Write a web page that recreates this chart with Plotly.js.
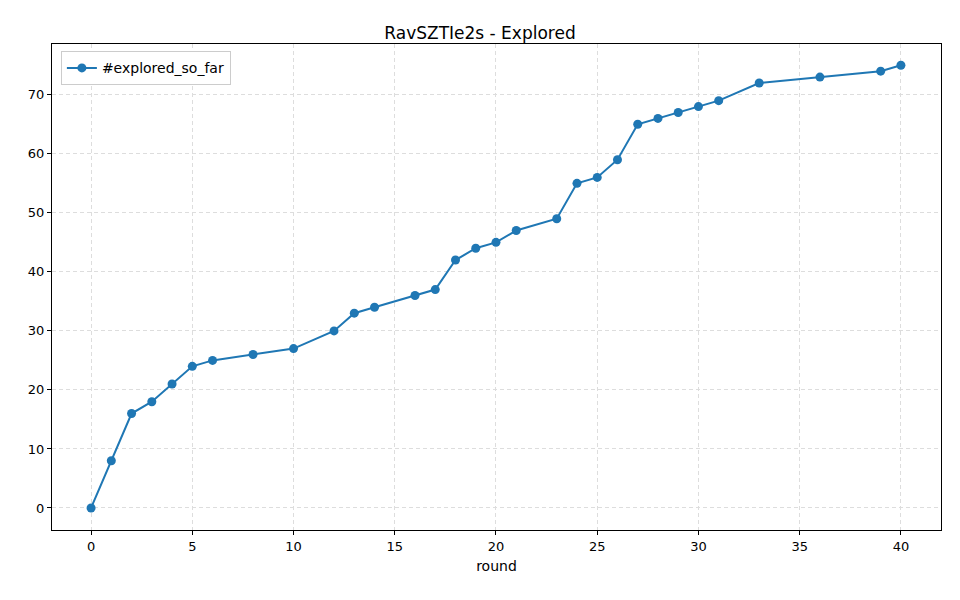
<html><head>
<script src="https://cdn.plot.ly/plotly-3.0.1.min.js"></script>
</head><body style="margin:0">
<div id="plot" style="width:960px;height:600px"></div>
<script>
const rounds = [0,1,2,3,4,5,6,8,10,12,13,14,16,17,18,19,20,21,23,24,25,26,27,28,29,30,31,33,36,39,40];
const explored = [0,8,16,18,21,24,25,26,27,30,33,34,36,37,42,44,45,47,49,55,56,59,65,66,67,68,69,72,73,74,75];
const xTicks = [0,5,10,15,20,25,30,35,40];
const yTicks = [0,10,20,30,40,50,60,70];

const gridStyle = { showgrid: true, gridcolor: '#dddddd', griddash: '4px,3px', gridwidth: 1,
    zeroline: false, showline: true, mirror: true, linecolor: '#000', ticks: 'outside',
    ticklen: 4, tickcolor: '#000', tickfont: { size: 13, color: '#000' } };

Plotly.newPlot('plot', [{
    x: rounds, y: explored, type: 'scatter', mode: 'lines+markers',
    name: '#explored_so_far',
    line: { color: '#1f77b4', width: 2 }, marker: { size: 9, color: '#1f77b4' }
}], {
    font: { family: 'DejaVu Sans', color: '#000' },
    title: { text: 'RavSZTIe2s - Explored', font: { size: 17 }, x: 0.5, y: 0.955 },
    margin: { t: 44, r: 19, b: 70, l: 52 },
    showlegend: true,
    legend: { x: 0.01, y: 0.985, bordercolor: '#cccccc', borderwidth: 1, font: { size: 14 } },
    xaxis: Object.assign({ range: [-1.93, 41.98], tickvals: xTicks, title: { text: 'round', font: { size: 14 }, standoff: 8 } }, gridStyle),
    yaxis: Object.assign({ range: [-3.73, 78.6], tickvals: yTicks }, gridStyle),
    plot_bgcolor: '#fff', paper_bgcolor: '#fff'
}, { displayModeBar: false });
</script></body></html>
